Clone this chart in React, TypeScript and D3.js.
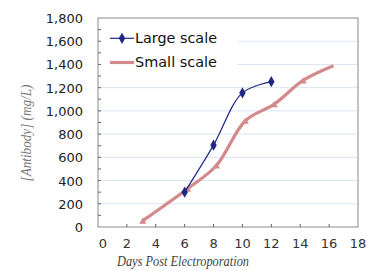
import * as d3 from "d3";
import { useRef, useEffect } from "react";

const largeDays = [6, 8, 10, 12];
const largeValues = [300, 705, 1155, 1252];
const smallDays = [3.1, 6.2, 8.2, 10.2, 12.2, 14.2, 16.3];
const smallValues = [55, 330, 530, 915, 1058, 1262, 1388];
const xTicks = [0, 2, 4, 6, 8, 10, 12, 14, 16, 18];
const yTicks = [0, 200, 400, 600, 800, 1000, 1200, 1400, 1600, 1800];

const BLUE = "#1f2885";
const SALMON = "#d48a8c";
const SANS = "DejaVu Sans, Verdana, sans-serif";
const SERIF = "Liberation Serif, Times New Roman, serif";

function App() {
  const svgRef = useRef<SVGSVGElement>(null);

  useEffect(() => {
    const WIDTH = 367;
    const HEIGHT = 271;
    const m = { left: 98, right: 358, top: 18, bottom: 227 };

    const svg = d3.select(svgRef.current).attr("width", WIDTH).attr("height", HEIGHT);
    svg.selectAll("*").remove();

    const x = d3.scaleLinear().domain([0, 18]).range([m.left, m.right]);
    const y = d3.scaleLinear().domain([0, 1800]).range([m.bottom, m.top]);

    // gridlines
    svg.append("g").selectAll("line")
      .data(yTicks.slice(1, -1))
      .join("line")
      .attr("x1", m.left).attr("x2", m.right)
      .attr("y1", (d) => y(d)).attr("y2", (d) => y(d))
      .attr("stroke", "#d9e5f4").attr("stroke-width", 1);

    // legend box hides gridlines behind it
    svg.append("rect")
      .attr("x", m.left + 1).attr("y", m.top + 1)
      .attr("width", 138).attr("height", 55)
      .attr("fill", "white");

    // frame
    svg.append("rect")
      .attr("x", m.left).attr("y", m.top)
      .attr("width", m.right - m.left).attr("height", m.bottom - m.top)
      .attr("fill", "none").attr("stroke", "#8a8a8a");

    // y minor ticks (inside)
    svg.append("g").selectAll("line")
      .data(d3.range(100, 1800, 100))
      .join("line")
      .attr("x1", m.left).attr("x2", m.left + 3)
      .attr("y1", (d) => y(d)).attr("y2", (d) => y(d))
      .attr("stroke", "#666");

    // x ticks (inside)
    svg.append("g").selectAll("line")
      .data(xTicks.slice(1, -1))
      .join("line")
      .attr("x1", (d) => x(d)).attr("x2", (d) => x(d))
      .attr("y1", m.bottom).attr("y2", m.bottom - 3)
      .attr("stroke", "#666");

    // tick labels
    svg.append("g").selectAll("text")
      .data(yTicks)
      .join("text")
      .attr("x", m.left - 15)
      .attr("y", (d) => y(d) + 5)
      .attr("text-anchor", "end")
      .attr("font-family", SANS)
      .attr("font-size", 13)
      .attr("fill", "#222")
      .text((d) => d3.format(",")(d));

    svg.append("g").selectAll("text")
      .data(xTicks)
      .join("text")
      .attr("x", (d) => (d === 0 ? x(d) + 5 : x(d)))
      .attr("y", m.bottom + 21)
      .attr("text-anchor", "middle")
      .attr("font-family", SANS)
      .attr("font-size", 13)
      .attr("fill", "#333")
      .text((d) => d);

    // axis titles
    svg.append("text")
      .attr("x", 117).attr("y", 266)
      .attr("font-family", SERIF)
      .attr("font-style", "italic")
      .attr("font-size", 14.5)
      .attr("fill", "#444")
      .attr("textLength", 132)
      .attr("lengthAdjust", "spacingAndGlyphs")
      .text("Days Post Electroporation");

    svg.append("text")
      .attr("transform", "translate(31,181.5) rotate(-90)")
      .attr("font-family", SERIF)
      .attr("font-style", "italic")
      .attr("font-size", 14)
      .attr("fill", "#777")
      .attr("textLength", 97)
      .attr("lengthAdjust", "spacingAndGlyphs")
      .text("[Antibody] (mg/L)");

    const line = d3.line<[number, number]>()
      .x((d) => x(d[0])).y((d) => y(d[1]))
      .curve(d3.curveCatmullRom.alpha(0.5));

    const small: [number, number][] = smallDays.map((d, i) => [d, smallValues[i]]);
    const large: [number, number][] = largeDays.map((d, i) => [d, largeValues[i]]);

    svg.append("path")
      .attr("d", line(small))
      .attr("fill", "none").attr("stroke", SALMON).attr("stroke-width", 3.2)
      .attr("stroke-linejoin", "round");

    svg.append("g").selectAll("path")
      .data(small.slice(0, -1))
      .join("path")
      .attr("transform", (d) => `translate(${x(d[0])},${y(d[1]) + 1})`)
      .attr("d", d3.symbol(d3.symbolTriangle, 22)())
      .attr("fill", SALMON);

    svg.append("path")
      .attr("d", line(large))
      .attr("fill", "none").attr("stroke", BLUE).attr("stroke-width", 1.2);

    svg.append("g").selectAll("path")
      .data(large)
      .join("path")
      .attr("transform", (d) => `translate(${x(d[0])},${y(d[1])})`)
      .attr("d", d3.symbol(d3.symbolDiamond, 36)())
      .attr("fill", BLUE);

    // legend
    const lg = svg.append("g").attr("font-family", SANS).attr("font-size", 14).attr("fill", "#111");
    lg.append("line").attr("x1", 110).attr("x2", 134).attr("y1", 38.3).attr("y2", 38.3)
      .attr("stroke", BLUE).attr("stroke-width", 1.2);
    lg.append("path").attr("transform", "translate(122,38.3)")
      .attr("d", d3.symbol(d3.symbolDiamond, 36)()).attr("fill", BLUE);
    lg.append("text").attr("x", 135).attr("y", 42.5).attr("textLength", 82)
      .attr("lengthAdjust", "spacingAndGlyphs").text("Large scale");
    lg.append("line").attr("x1", 110).attr("x2", 134).attr("y1", 62.5).attr("y2", 62.5)
      .attr("stroke", SALMON).attr("stroke-width", 3.2);
    lg.append("text").attr("x", 135).attr("y", 67).attr("textLength", 82)
      .attr("lengthAdjust", "spacingAndGlyphs").text("Small scale");
  }, []);

  return (
    <div style={{ position: "absolute", left: 0, top: 0 }}>
      <svg ref={svgRef} />
    </div>
  );
}

export default App;
